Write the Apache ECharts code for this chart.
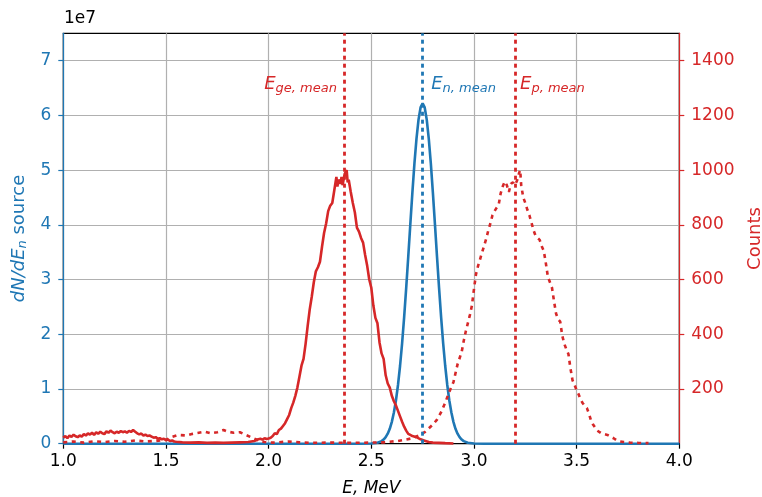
<!DOCTYPE html>
<html>
<head>
<meta charset="utf-8">
<script src="https://cdn.jsdelivr.net/npm/echarts@6/dist/echarts.min.js"></script>
<style>
  html, body { margin: 0; padding: 0; background: #fff; }
  #chart { width: 762px; height: 497px; }
</style>
</head>
<body>
<div id="chart"></div>
<script>
// Tick positions
const energyTicks = [1.0, 1.5, 2.0, 2.5, 3.0, 3.5, 4.0];
const sourceTicks = [0, 1, 2, 3, 4, 5, 6, 7];          // units of 1e7
const countTicks = [200, 400, 600, 800, 1000, 1200, 1400];

// Mean energies (MeV)
const meanGe = 2.367;
const meanN = 2.748;
const meanP = 3.200;
const meanLabelCounts = 1315;

// Neutron source spectrum dN/dE_n (units of 1e7)
const nEnergy = [1.00, 2.45, 2.50, 2.53, 2.55, 2.56, 2.57, 2.58, 2.59, 2.60, 2.61, 2.62, 2.63, 2.64, 2.65, 2.66, 2.67, 2.68, 2.69, 2.70, 2.71, 2.72, 2.73, 2.74, 2.75, 2.76, 2.77, 2.78, 2.79, 2.80, 2.81, 2.82, 2.83, 2.84, 2.85, 2.86, 2.87, 2.88, 2.89, 2.90, 2.91, 2.92, 2.93, 2.94, 2.95, 2.97, 3.00, 3.05, 4.00];
const nSource = [0, 0, 0.003, 0.017, 0.047, 0.076, 0.119, 0.183, 0.273, 0.399, 0.569, 0.790, 1.073, 1.420, 1.835, 2.314, 2.848, 3.420, 4.008, 4.584, 5.117, 5.572, 5.923, 6.145, 6.220, 6.145, 5.923, 5.572, 5.117, 4.584, 4.008, 3.420, 2.848, 2.314, 1.835, 1.420, 1.073, 0.790, 0.569, 0.399, 0.273, 0.183, 0.119, 0.076, 0.047, 0.017, 0.003, 0, 0];

// Ge detector counts
const geEnergy = [1.00, 1.01, 1.02, 1.03, 1.04, 1.05, 1.06, 1.07, 1.08, 1.09, 1.10, 1.11, 1.12, 1.13, 1.14, 1.15, 1.16, 1.17, 1.18, 1.19, 1.20, 1.21, 1.22, 1.23, 1.24, 1.25, 1.26, 1.27, 1.28, 1.29, 1.30, 1.31, 1.32, 1.33, 1.34, 1.35, 1.36, 1.37, 1.38, 1.39, 1.40, 1.41, 1.42, 1.43, 1.44, 1.45, 1.46, 1.47, 1.48, 1.49, 1.50, 1.51, 1.52, 1.53, 1.54, 1.55, 1.58, 1.62, 1.66, 1.70, 1.74, 1.78, 1.82, 1.86, 1.90, 1.93, 1.95, 1.96, 1.97, 1.98, 1.99, 2.00, 2.01, 2.02, 2.03, 2.04, 2.05, 2.06, 2.07, 2.08, 2.09, 2.10, 2.11, 2.12, 2.13, 2.14, 2.15, 2.16, 2.17, 2.18, 2.19, 2.20, 2.21, 2.22, 2.23, 2.24, 2.25, 2.26, 2.27, 2.28, 2.29, 2.30, 2.31, 2.32, 2.33, 2.335, 2.34, 2.35, 2.355, 2.36, 2.37, 2.38, 2.385, 2.39, 2.40, 2.41, 2.42, 2.43, 2.44, 2.45, 2.46, 2.47, 2.48, 2.49, 2.50, 2.51, 2.52, 2.53, 2.54, 2.55, 2.56, 2.57, 2.58, 2.59, 2.60, 2.61, 2.62, 2.63, 2.64, 2.65, 2.66, 2.67, 2.68, 2.69, 2.70, 2.72, 2.74, 2.76, 2.78, 2.80, 2.83, 2.86, 2.90];
const geCounts = [22, 28, 20, 30, 25, 33, 27, 24, 30, 26, 35, 30, 38, 33, 40, 32, 42, 36, 44, 38, 35, 45, 40, 48, 42, 38, 44, 40, 46, 42, 45, 40, 47, 43, 50, 44, 38, 34, 37, 30, 33, 28, 30, 26, 22, 24, 18, 20, 16, 18, 13, 15, 10, 12, 8, 7, 5, 4, 5, 3, 4, 3, 4, 5, 6, 10, 16, 18, 15, 20, 17, 19, 22, 28, 38, 35, 50, 55, 65, 75, 90, 105, 130, 150, 175, 205, 245, 285, 310, 365, 430, 490, 537, 590, 630, 645, 665, 720, 770, 805, 850, 870, 880, 927, 975, 940, 965, 950, 975, 945, 985, 1000, 955, 965, 920, 880, 845, 790, 775, 752, 735, 690, 650, 600, 570, 505, 460, 440, 370, 330, 310, 250, 220, 205, 175, 155, 140, 120, 100, 80, 62, 48, 36, 32, 28, 24, 16, 11, 6, 4, 3, 2, 1];

// Proton-recoil counts
const pEnergy = [1.00, 1.05, 1.10, 1.15, 1.20, 1.25, 1.30, 1.35, 1.40, 1.45, 1.50, 1.53, 1.56, 1.60, 1.63, 1.66, 1.69, 1.72, 1.75, 1.78, 1.80, 1.83, 1.86, 1.89, 1.92, 1.95, 1.98, 2.02, 2.10, 2.15, 2.20, 2.30, 2.40, 2.50, 2.56, 2.60, 2.63, 2.66, 2.70, 2.73, 2.76, 2.78, 2.80, 2.82, 2.84, 2.86, 2.88, 2.90, 2.92, 2.94, 2.95, 2.96, 2.97, 2.98, 2.99, 3.00, 3.01, 3.02, 3.03, 3.04, 3.05, 3.06, 3.07, 3.08, 3.09, 3.10, 3.11, 3.12, 3.13, 3.14, 3.15, 3.16, 3.17, 3.18, 3.19, 3.20, 3.21, 3.22, 3.225, 3.23, 3.24, 3.25, 3.26, 3.27, 3.28, 3.29, 3.30, 3.31, 3.32, 3.33, 3.34, 3.35, 3.36, 3.37, 3.38, 3.39, 3.40, 3.41, 3.42, 3.43, 3.44, 3.45, 3.46, 3.47, 3.48, 3.49, 3.50, 3.51, 3.52, 3.53, 3.54, 3.55, 3.56, 3.57, 3.58, 3.60, 3.62, 3.65, 3.68, 3.70, 3.73, 3.76, 3.80, 3.85];
const pCounts = [5, 8, 4, 9, 6, 10, 7, 12, 8, 10, 14, 25, 32, 30, 36, 40, 44, 38, 42, 50, 44, 40, 42, 32, 22, 12, 6, 4, 8, 5, 3, 4, 3, 4, 5, 8, 10, 14, 20, 30, 42, 56, 70, 88, 115, 150, 190, 225, 290, 335, 375, 410, 440, 470, 505, 565, 620, 650, 675, 700, 725, 750, 780, 805, 835, 850, 862, 872, 915, 940, 958, 945, 920, 950, 955, 945, 962, 990, 1000, 945, 900, 880, 855, 835, 808, 780, 760, 752, 745, 722, 705, 660, 610, 590, 570, 520, 475, 455, 446, 395, 365, 345, 328, 275, 232, 215, 195, 180, 160, 148, 138, 130, 110, 85, 70, 48, 38, 32, 20, 10, 6, 4, 3, 2];

const BLUE = '#1f77b4';
const RED = '#d62728';
const FONT = 'DejaVu Sans';
const FS = 17;

const zip = (xs, ys) => xs.map((x, i) => [x, ys[i]]);

const subRich = (color) => ({
  e: { fontFamily: FONT, fontStyle: 'italic', fontSize: 18, color: color, lineHeight: 22, verticalAlign: 'middle' },
  s: { fontFamily: FONT, fontStyle: 'italic', fontSize: 13, color: color, verticalAlign: 'bottom', lineHeight: 14 }
});

const vline = (x, color) => ({
  silent: true,
  symbol: ['none', 'none'],
  label: { show: false },
  lineStyle: { color: color, width: 2.8, type: [4, 4] },
  data: [{ xAxis: x }]
});

const chart = echarts.init(document.getElementById('chart'));
chart.setOption({
  animation: false,
  textStyle: { fontFamily: FONT },
  grid: {
    left: 63.3, right: 82.7, top: 33.3, bottom: 53.3,
    outerBoundsMode: 'none', containLabel: false,
    show: true, borderColor: '#000', borderWidth: 1.2, backgroundColor: 'transparent'
  },
  graphic: [{
    type: 'text', left: 64, top: 10,
    style: { text: '1e7', fontFamily: FONT, fontSize: FS, fill: '#000' }
  }],
  xAxis: {
    type: 'value', min: 1, max: 4, interval: 0.5,
    name: 'E, MeV', nameLocation: 'middle', nameGap: 36,
    nameTextStyle: { fontFamily: FONT, fontStyle: 'italic', fontSize: FS, color: '#000' },
    axisLine: { lineStyle: { color: '#000', width: 1.2 } },
    axisTick: { length: 5, lineStyle: { color: '#000', width: 1.2 }, customValues: energyTicks },
    axisLabel: { color: '#000', fontSize: FS, margin: 9, customValues: energyTicks, formatter: v => v.toFixed(1) },
    splitLine: { show: true, lineStyle: { color: '#b0b0b0', width: 1.2 } }
  },
  yAxis: [{
    type: 'value', position: 'left', min: 0, max: 7.5, interval: 1,
    name: '{i|dN/dE}{s|n}{r| source}', nameLocation: 'middle', nameGap: 32, nameRotate: 90,
    nameTextStyle: {
      color: BLUE,
      rich: {
        i: { fontFamily: FONT, fontStyle: 'italic', fontSize: 18, color: BLUE, lineHeight: 20 },
        s: { fontFamily: FONT, fontStyle: 'italic', fontSize: 13, color: BLUE, verticalAlign: 'bottom', lineHeight: 13 },
        r: { fontFamily: FONT, fontSize: 18, color: BLUE, lineHeight: 20 }
      }
    },
    axisLine: { show: true, lineStyle: { color: BLUE, width: 1.2 } },
    axisTick: { show: true, length: 5, lineStyle: { color: BLUE, width: 1.2 }, customValues: sourceTicks },
    axisLabel: { color: BLUE, fontSize: FS, margin: 12, customValues: sourceTicks, formatter: v => String(v) },
    splitLine: { show: true, lineStyle: { color: '#b0b0b0', width: 1.2 } }
  }, {
    type: 'value', position: 'right', min: 0, max: 1500, interval: 100,
    name: 'Counts', nameLocation: 'middle', nameGap: 67, nameRotate: 90,
    nameTextStyle: { fontFamily: FONT, fontSize: 18, color: RED },
    axisLine: { show: true, lineStyle: { color: RED, width: 1.2 } },
    axisTick: { show: true, length: 5, lineStyle: { color: RED, width: 1.2 }, customValues: countTicks },
    axisLabel: { color: RED, fontSize: FS, margin: 12, customValues: countTicks, formatter: v => String(v) },
    splitLine: { show: false }
  }],
  series: [{
    name: 'source', type: 'line', yAxisIndex: 0,
    data: zip(nEnergy, nSource),
    showSymbol: false, symbol: 'none',
    lineStyle: { color: BLUE, width: 2.6 },
    markLine: vline(meanN, BLUE)
  }, {
    name: 'ge', type: 'line', yAxisIndex: 1,
    data: zip(geEnergy, geCounts),
    showSymbol: false, symbol: 'none',
    lineStyle: { color: RED, width: 2.6 },
    markLine: vline(meanGe, RED)
  }, {
    name: 'p', type: 'line', yAxisIndex: 1,
    data: zip(pEnergy, pCounts),
    showSymbol: false, symbol: 'none',
    lineStyle: { color: RED, width: 2.6, type: [4, 4.5] },
    markLine: vline(meanP, RED),
    markPoint: {
      silent: true,
      symbol: 'circle', symbolSize: 0,
      itemStyle: { color: 'transparent' },
      data: [{
        coord: [meanGe, meanLabelCounts],
        label: { show: true, position: 'left', distance: 7, formatter: '{e|E}{s|ge, mean}', rich: subRich(RED) }
      }, {
        coord: [meanN, meanLabelCounts],
        label: { show: true, position: 'right', distance: 9, formatter: '{e|E}{s|n, mean}', rich: subRich(BLUE) }
      }, {
        coord: [meanP, meanLabelCounts],
        label: { show: true, position: 'right', distance: 5, formatter: '{e|E}{s|p, mean}', rich: subRich(RED) }
      }]
    }
  }]
});
</script>
</body>
</html>
